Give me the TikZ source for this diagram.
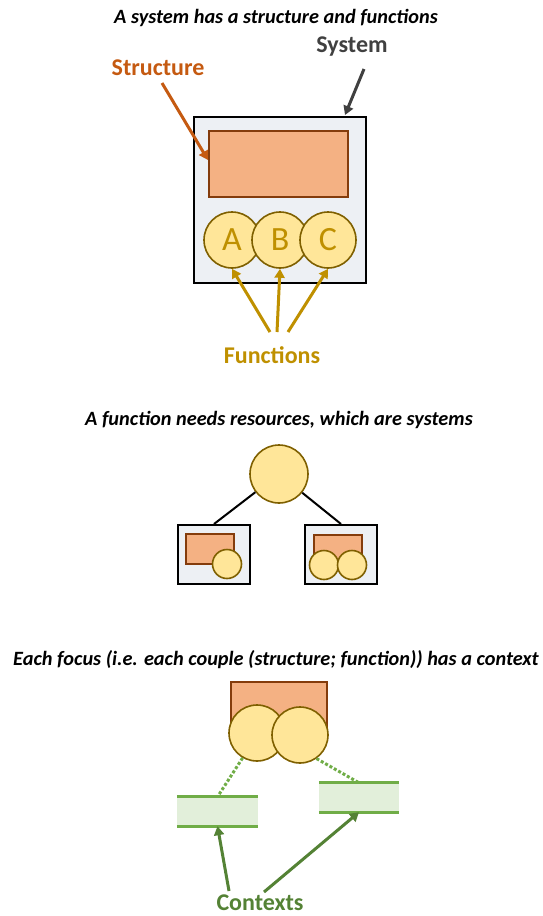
\documentclass[tikz,border=0pt]{standalone}
\usepackage{fontspec}
\setmainfont{Carlito}
\usetikzlibrary{arrows.meta}
\definecolor{sysfill}{HTML}{EDF0F4}
\definecolor{strfill}{HTML}{F4B183}
\definecolor{strdraw}{HTML}{843C0C}
\definecolor{fnfill}{HTML}{FFE699}
\definecolor{fndraw}{HTML}{7F6000}
\definecolor{fntext}{HTML}{BF9000}
\definecolor{orangetxt}{HTML}{C55A11}
\definecolor{systxt}{HTML}{404040}
\definecolor{ctxfill}{HTML}{E2EFDA}
\definecolor{ctxline}{HTML}{70AD47}
\definecolor{ctxdark}{HTML}{548235}
\begin{document}
\begin{tikzpicture}[x=1pt,y=-1pt,
  title/.style={font=\fontsize{20.3}{24}\selectfont\bfseries\itshape, text=black, inner sep=1pt},
  lbl/.style={font=\fontsize{24}{28}\selectfont\bfseries, inner sep=1pt},
  sysbox/.style={draw=black, line width=2pt, fill=sysfill},
  strbox/.style={draw=strdraw, line width=1.6pt, fill=strfill},
  fncirc/.style={draw=fndraw, line width=1.6pt, fill=fnfill},
  arr/.style={line width=3pt, -{Triangle[length=9pt,width=10pt]}},
]
\useasboundingbox (0,0) rectangle (543,916);

% ---------- Part 1 ----------
\node[title] (t1) at (276,18) {A system has a structure and functions};
\node[lbl, text=systxt] (syslbl) at (352,47) {System};
\node[lbl, text=orangetxt] (strlbl) at (158,68) {Structure};

\node[sysbox, minimum width=172pt, minimum height=166pt, inner sep=0pt] (sys) at (280,200) {};
\node[strbox, minimum width=139pt, minimum height=66pt, inner sep=0pt] (str) at (278.5,164) {};
\node[fncirc, circle, minimum size=56pt, inner sep=0pt, font=\fontsize{34}{36}\selectfont, text=fntext] (A) at (232,240) {A};
\node[fncirc, circle, minimum size=56pt, inner sep=0pt, font=\fontsize{34}{36}\selectfont, text=fntext] (B) at (280,240) {B};
\node[fncirc, circle, minimum size=56pt, inner sep=0pt, font=\fontsize{34}{36}\selectfont, text=fntext] (C) at (328,240) {C};

\coordinate (s0) at (162,83);
\coordinate (s1) at (208,160);
\draw[arr, draw=orangetxt, fill=orangetxt] (s0) -- (s1);
\coordinate (y0) at (364,69);
\coordinate (y1) at (345,115);
\draw[arr, draw=systxt, fill=systxt] (y0) -- (y1);

\node[lbl, text=fntext] (fnlbl) at (272,355) {Functions};
\coordinate (f1) at (270,332);
\coordinate (f2) at (277,332);
\coordinate (f3) at (288,332);
\draw[arr, draw=fntext, fill=fntext] (f1) -- (A.south);
\draw[arr, draw=fntext, fill=fntext] (f2) -- (B.south);
\draw[arr, draw=fntext, fill=fntext] (f3) -- (C.south);

% ---------- Part 2 ----------
\node[title] (t2) at (279,420) {A function needs resources, which are systems};
\node[fncirc, circle, minimum size=58pt, inner sep=0pt] (top) at (279,474) {};
\node[sysbox, minimum width=72pt, minimum height=59pt, inner sep=0pt] (lb) at (214,554.5) {};
\node[sysbox, minimum width=72pt, minimum height=59pt, inner sep=0pt] (rb) at (341,554.5) {};
\draw[line width=2pt] (top) -- (lb.north);
\draw[line width=2pt] (top) -- (rb.north);
\node[strbox, minimum width=48pt, minimum height=30pt, inner sep=0pt] (lstr) at (210,549) {};
\node[fncirc, circle, minimum size=29pt, inner sep=0pt] (lc) at (227,564) {};
\node[strbox, minimum width=48pt, minimum height=28pt, inner sep=0pt] (rstr) at (338,549) {};
\node[fncirc, circle, minimum size=29pt, inner sep=0pt] (rc1) at (324,565) {};
\node[fncirc, circle, minimum size=29pt, inner sep=0pt] (rc2) at (352,565) {};

% ---------- Part 3 ----------
\node[title] (t3) at (276,660) {Each focus (i.e. each couple (structure; function)) has a context};
\node[strbox, minimum width=96pt, minimum height=50pt, inner sep=0pt] (fstr) at (279,707) {};
\node[fncirc, circle, minimum size=56pt, inner sep=0pt] (fc1) at (257,733) {};
\node[fncirc, circle, minimum size=56pt, inner sep=0pt] (fc2) at (300,735) {};

% context boxes
\node[fill=ctxfill, minimum width=81pt, minimum height=29pt, inner sep=0pt] (cx1) at (217.5,811.5) {};
\draw[ctxline, line width=3pt] (cx1.north west) -- (cx1.north east);
\draw[ctxline, line width=3pt] (cx1.south west) -- (cx1.south east);
\node[fill=ctxfill, minimum width=80pt, minimum height=29pt, inner sep=0pt] (cx2) at (359,797.5) {};
\draw[ctxline, line width=3pt] (cx2.north west) -- (cx2.north east);
\draw[ctxline, line width=3pt] (cx2.south west) -- (cx2.south east);

\draw[ctxline, line width=3pt, dotted] (fc1.240) -- (cx1.north);
\draw[ctxline, line width=3pt, dotted] (fc2.-55) -- (cx2.north);

\node[lbl, text=ctxdark] (cxlbl) at (260,903) {Contexts};
\coordinate (c0) at (229,891);
\coordinate (c1) at (264,892);
\draw[arr, draw=ctxdark, fill=ctxdark] (c0) -- (cx1.south);
\draw[arr, draw=ctxdark, fill=ctxdark] (c1) -- (cx2.south);
\end{tikzpicture}
\end{document}
